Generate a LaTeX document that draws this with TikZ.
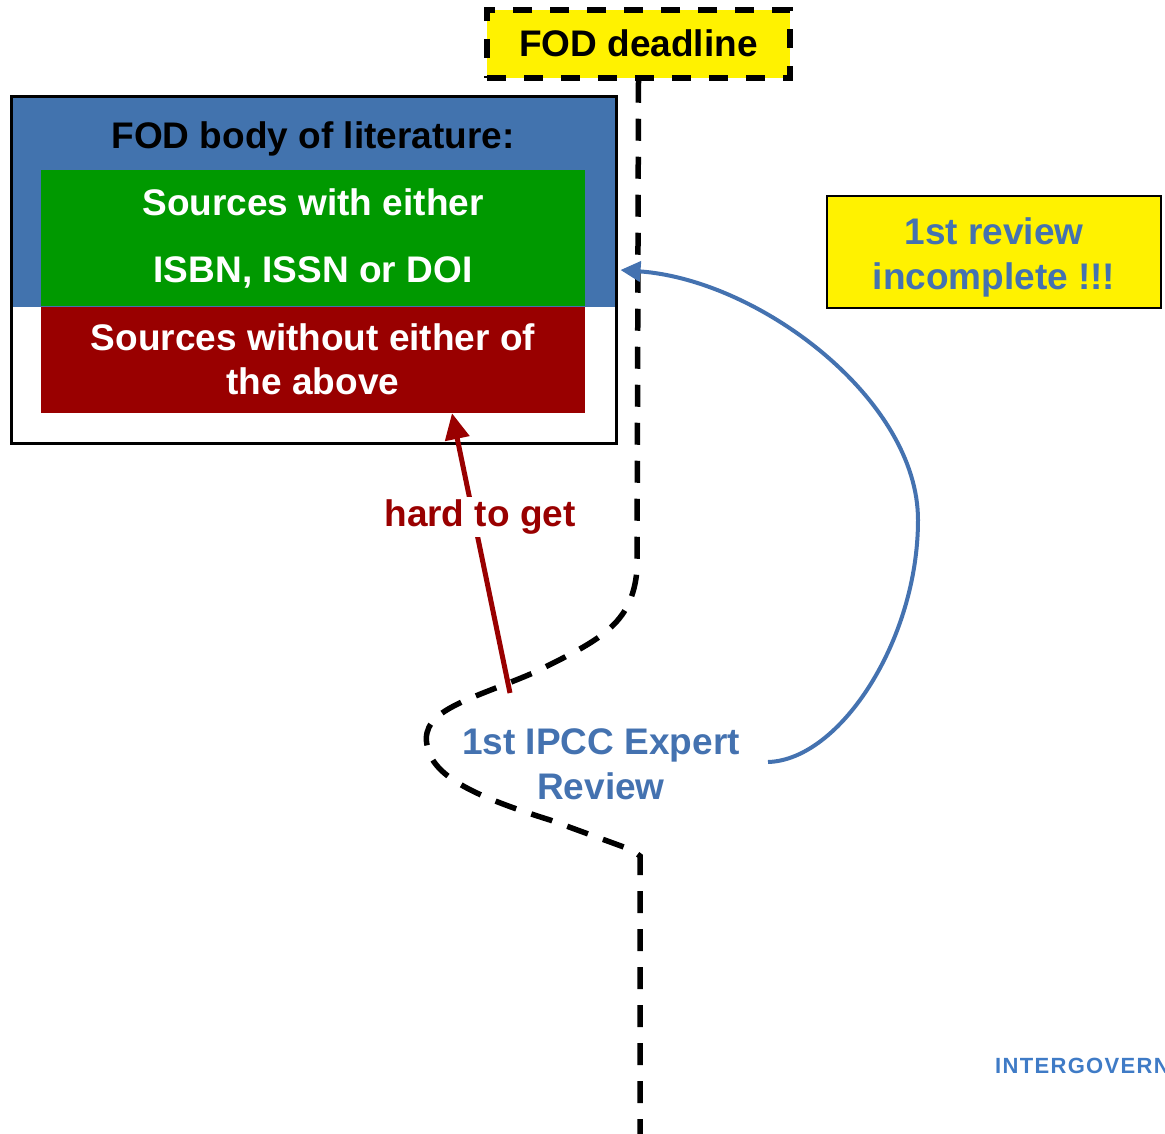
\documentclass[tikz,border=0pt]{standalone}
\usepackage{fontspec}
\setmainfont{Liberation Sans}
\newfontfamily\spacedfont[LetterSpace=6]{Liberation Sans}
\usetikzlibrary{arrows.meta}
\definecolor{boxblue}{HTML}{4273AE}
\definecolor{srcgreen}{HTML}{009900}
\definecolor{srcred}{HTML}{990000}
\definecolor{txtblue}{HTML}{4472B0}
\definecolor{logoblue}{HTML}{3F7BC6}
\begin{document}
\begin{tikzpicture}[x=1pt,y=-1pt,
  bigtext/.style={font=\fontsize{37}{44}\selectfont\bfseries, inner sep=0pt, anchor=base},
  timeline/.style={line width=5.5pt, dash pattern=on 22pt off 16pt},
  fillbox/.style={inner sep=0pt, draw=none}]
\useasboundingbox (0,0) rectangle (1165,1134);

% outer literature box
\fill[boxblue] (11,97) rectangle (616,307);
\node[fillbox, fill=srcgreen, minimum width=544pt, minimum height=136pt] (green) at (313,238) {};
\node[fillbox, fill=srcred, minimum width=544pt, minimum height=106pt] (red) at (313,360) {};
\node[draw=black, line width=3pt, minimum width=605pt, minimum height=346pt, inner sep=0pt] (outer) at (313.5,270) {};

\node[bigtext] (fodbody) at (313,149) {FOD body of literature:};
\node[bigtext, text=white] (g1) at (313,216) {Sources with either};
\node[bigtext, text=white] (g2) at (313,283) {ISBN, ISSN or DOI};
\node[bigtext, text=white] (r1) at (313,350) {Sources without either of};
\node[bigtext, text=white] (r2) at (313,394) {the above};

% deadline box and timeline
\node[draw=black, fill=yellow, line width=5.5pt, dash pattern=on 19pt off 18pt,
      minimum width=303pt, minimum height=68pt, inner sep=0pt] (deadline) at (638.5,44) {};
\node[bigtext] (deadlinetxt) at (638.5,57) {FOD deadline};

\coordinate (tlend) at (640,1134);
\draw[timeline] (deadline.south) -- (637,570)
  .. controls (632,625) and (600,640) .. (533,673)
  .. controls (470,700) and (420,710) .. (427,745)
  .. controls (432,775) and (470,795) .. (550,820)
  -- (632,850) -- (640,856) -- (tlend);

% review incomplete box
\node[draw=black, fill=yellow, line width=2.5pt, minimum width=334pt, minimum height=112pt, inner sep=0pt] (incomplete) at (994,252) {};
\node[bigtext, text=txtblue] (inc1) at (994,244) {1st review};
\node[bigtext, text=txtblue] (inc2) at (994,289) {incomplete !!!};

% expert review
\node[bigtext, text=txtblue] (rev1) at (601,754) {1st IPCC Expert};
\node[bigtext, text=txtblue] (rev2) at (601,799) {Review};

% red arrow
\coordinate (redstart) at (510,693);
\draw[srcred, line width=5pt, -{Triangle[length=26pt,width=24pt]}] (redstart) -- ([xshift=139pt]red.south);
\node[bigtext, text=srcred, fill=white, inner sep=3pt, anchor=center] (hard) at (480,517) {hard to get};

% blue arrow
\coordinate (bluestart) at (768,762);
\draw[txtblue, line width=4pt, -{Triangle[length=20pt,width=20pt]}] (bluestart)
  .. controls (840,760) and (918,640) .. (918,520)
  .. controls (918,400) and (760,280) .. ([xshift=3pt]outer.east);

% logo text (cut off at the picture edge)
\node[font=\fontsize{22}{26}\selectfont\bfseries\spacedfont, text=logoblue, anchor=west, inner sep=0pt] (logo) at (995,1066) {INTERGOVERN};
\end{tikzpicture}
\end{document}
